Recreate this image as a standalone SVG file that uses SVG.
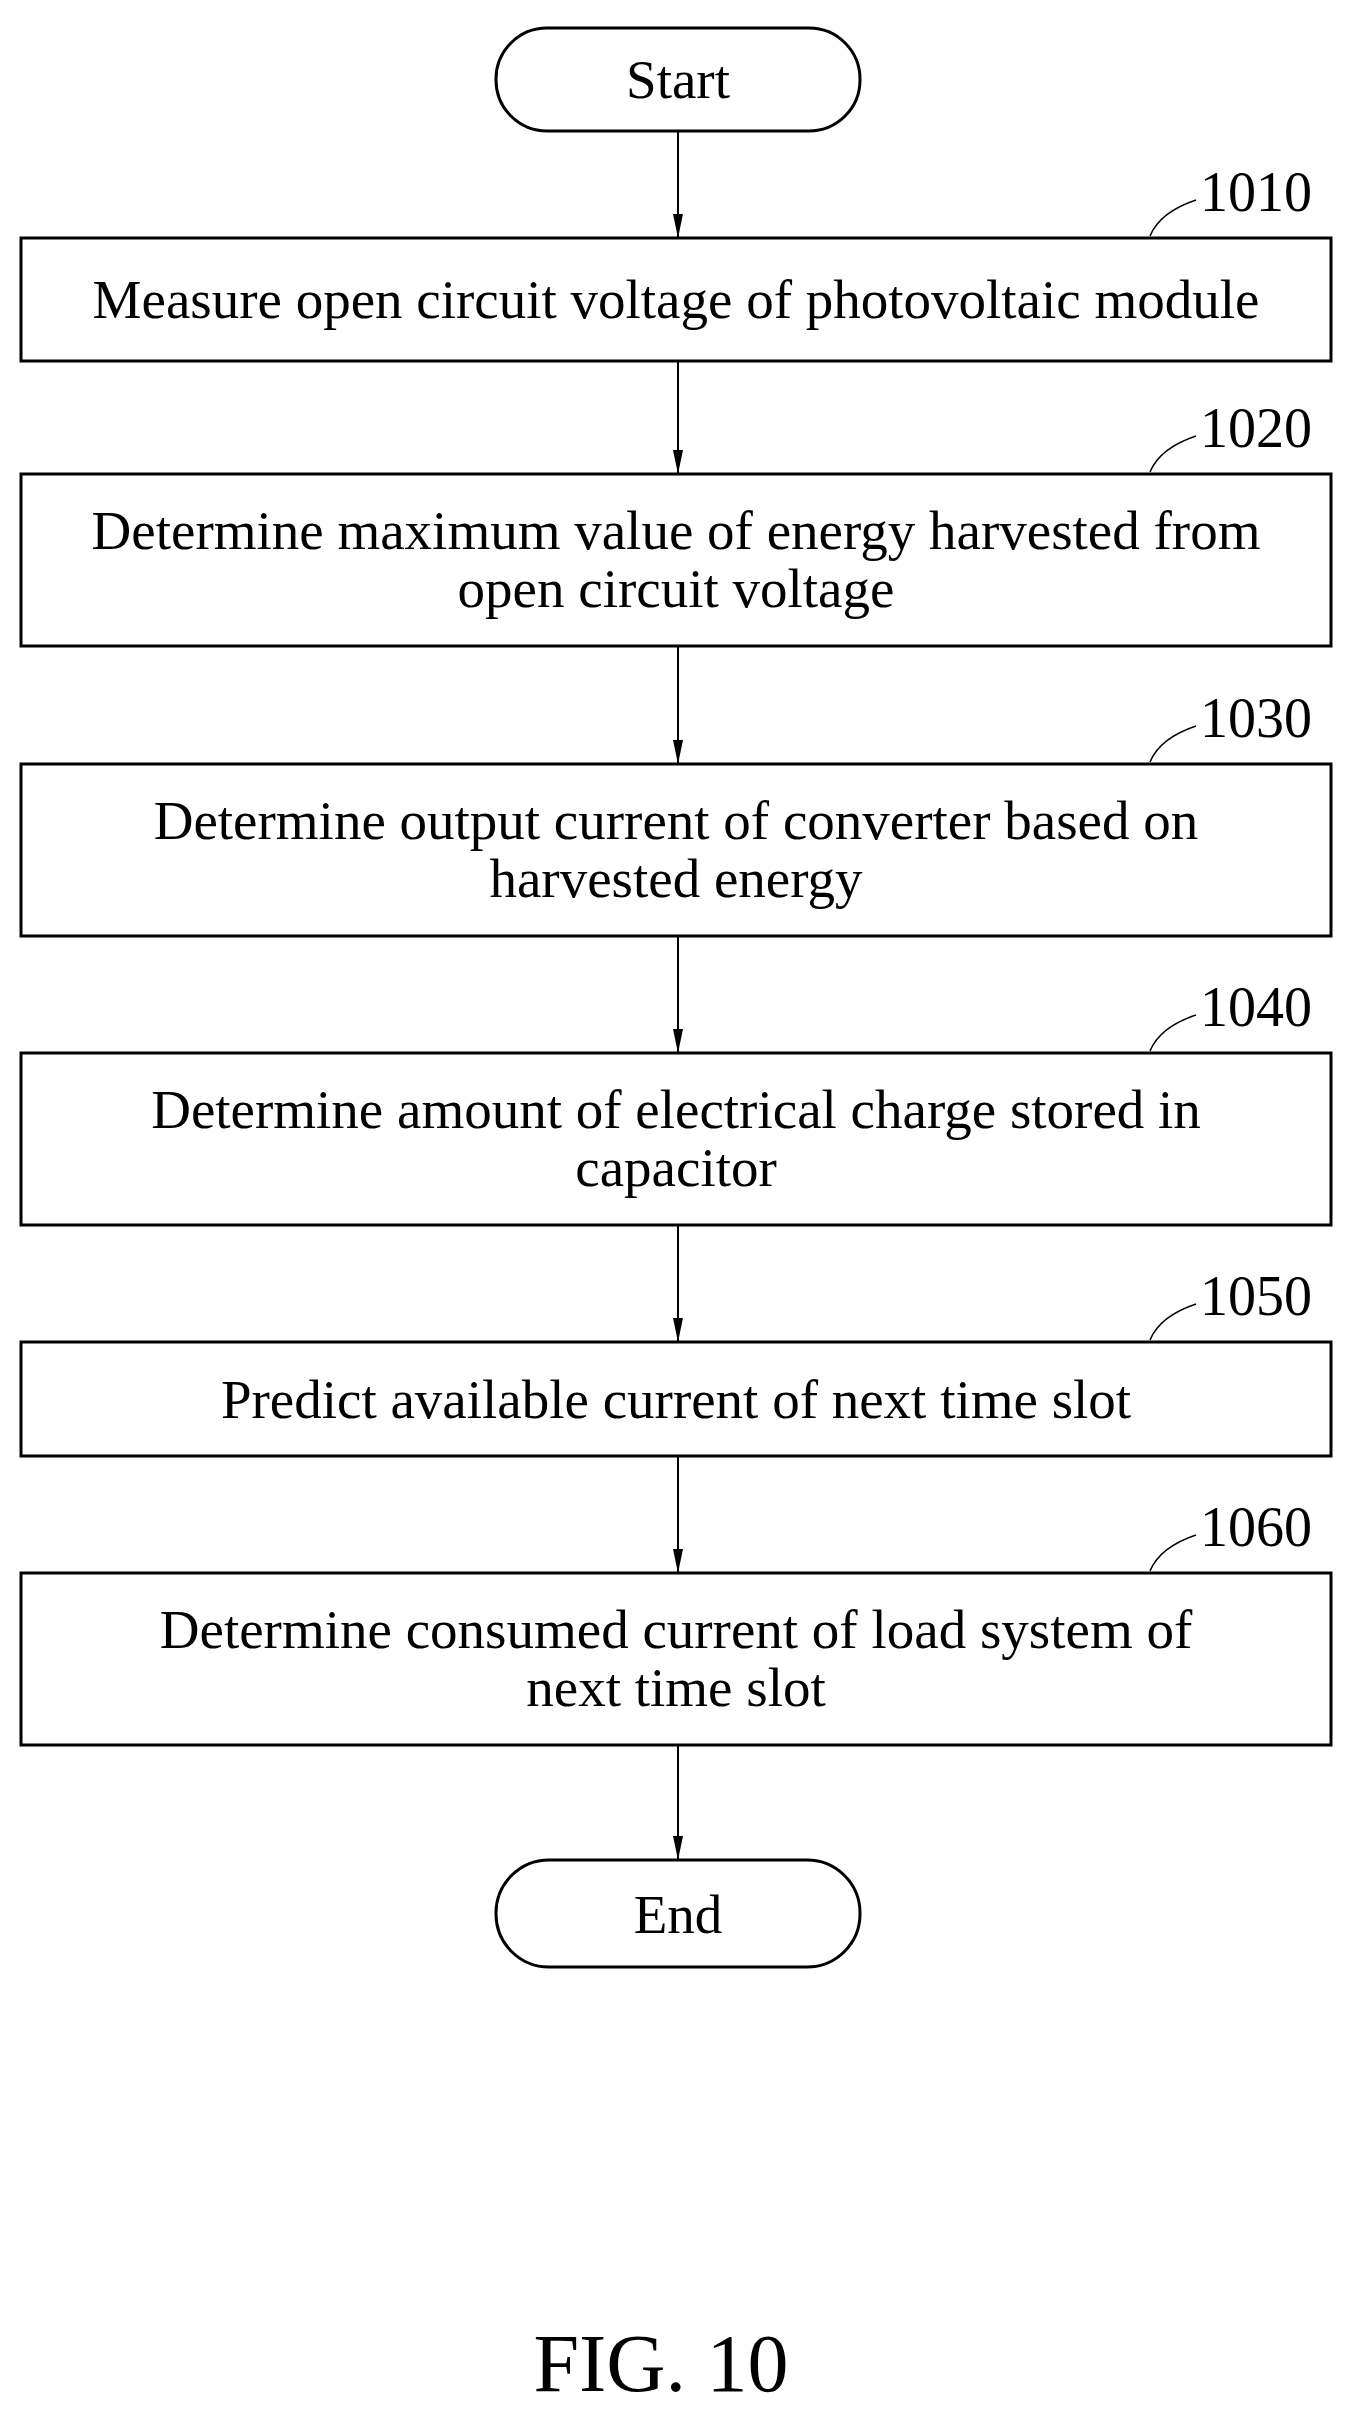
<svg xmlns="http://www.w3.org/2000/svg" width="1353" height="2410" viewBox="0 0 1353 2410">
<style>
.b{fill:#fff;stroke:#000;stroke-width:3}
.t{font-family:"Liberation Serif","Times New Roman",serif;font-size:55px;text-anchor:middle;fill:#000}
.n{font-family:"Liberation Serif","Times New Roman",serif;font-size:56px;fill:#000}
.c{stroke:#000;stroke-width:2;fill:none}
.l{stroke:#000;stroke-width:1.5;fill:none}
</style>
<defs>
<marker id="ah" viewBox="0 0 24 12" refX="24" refY="6" markerWidth="24" markerHeight="12" orient="auto" markerUnits="userSpaceOnUse"><path d="M0,1 L24,6 L0,11 z" fill="#000"/></marker></defs>
<g id="connectors">
<line class="c" x1="678" y1="131" x2="678" y2="238" marker-end="url(#ah)"/>
<line class="c" x1="678" y1="361" x2="678" y2="474" marker-end="url(#ah)"/>
<line class="c" x1="678" y1="646" x2="678" y2="764" marker-end="url(#ah)"/>
<line class="c" x1="678" y1="936" x2="678" y2="1053" marker-end="url(#ah)"/>
<line class="c" x1="678" y1="1225" x2="678" y2="1342" marker-end="url(#ah)"/>
<line class="c" x1="678" y1="1456" x2="678" y2="1573" marker-end="url(#ah)"/>
<line class="c" x1="678" y1="1745" x2="678" y2="1860" marker-end="url(#ah)"/>
</g>
<g id="start"><rect class="b" x="496" y="28" width="364" height="103" rx="51"/><text class="t" x="678" y="98">Start</text></g>
<g id="n1010"><rect class="b" x="21" y="238" width="1310" height="123"/><text class="t" x="676" y="318">Measure open circuit voltage of photovoltaic module</text>
<path class="l" d="M1150,236 Q1160,212 1196,200"/><text class="n" x="1200" y="211">1010</text></g>
<g id="n1020"><rect class="b" x="21" y="474" width="1310" height="172"/><text class="t" x="676" y="549">Determine maximum value of energy harvested from</text><text class="t" x="676" y="607">open circuit voltage</text>
<path class="l" d="M1150,472 Q1160,448 1196,436"/><text class="n" x="1200" y="447">1020</text></g>
<g id="n1030"><rect class="b" x="21" y="764" width="1310" height="172"/><text class="t" x="676" y="839">Determine output current of converter based on</text><text class="t" x="676" y="897">harvested energy</text>
<path class="l" d="M1150,762 Q1160,738 1196,726"/><text class="n" x="1200" y="737">1030</text></g>
<g id="n1040"><rect class="b" x="21" y="1053" width="1310" height="172"/><text class="t" x="676" y="1128">Determine amount of electrical charge stored in</text><text class="t" x="676" y="1186">capacitor</text>
<path class="l" d="M1150,1051 Q1160,1027 1196,1015"/><text class="n" x="1200" y="1026">1040</text></g>
<g id="n1050"><rect class="b" x="21" y="1342" width="1310" height="114"/><text class="t" x="676" y="1418">Predict available current of next time slot</text>
<path class="l" d="M1150,1340 Q1160,1316 1196,1304"/><text class="n" x="1200" y="1315">1050</text></g>
<g id="n1060"><rect class="b" x="21" y="1573" width="1310" height="172"/><text class="t" x="676" y="1648">Determine consumed current of load system of</text><text class="t" x="676" y="1706">next time slot</text>
<path class="l" d="M1150,1571 Q1160,1547 1196,1535"/><text class="n" x="1200" y="1546">1060</text></g>
<g id="end"><rect class="b" x="496" y="1860" width="364" height="107" rx="53"/><text class="t" x="678" y="1933">End</text></g>
<text x="661" y="2391" font-family="Liberation Serif, serif" font-size="82" text-anchor="middle">FIG. 10</text>
</svg>
